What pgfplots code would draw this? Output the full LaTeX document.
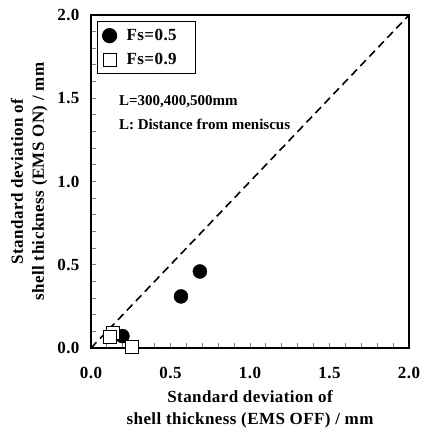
\documentclass[border=0pt]{standalone}
\usepackage{pgfplots}
\pgfplotsset{compat=1.18}
\usepackage{fontspec}
\setmainfont{Liberation Serif}
\newfontfamily\spc[LetterSpace=2.5]{Liberation Serif}
\begin{document}
\begin{tikzpicture}
\begin{axis}[
  scale only axis,
  width=318pt, height=333pt,
  xmin=0, xmax=2, ymin=0, ymax=2,
  xtick={0,0.5,...,2}, ytick={0,0.5,...,2},
  minor x tick num=4, minor y tick num=4,
  xtick pos=bottom, ytick pos=left,
  tick align=inside,
  major tick length=5pt, minor tick length=5pt,
  tick style={line width=1pt},
  /pgf/number format/fixed,
  /pgf/number format/fixed zerofill,
  /pgf/number format/precision=1,
  /pgf/number format/assume math mode=true,
  ticklabel style={font=\spc\bfseries\fontsize{17}{19}\selectfont},
  xticklabel style={yshift=-16pt},
  yticklabel style={xshift=-8pt},
  label style={font=\spc\bfseries\fontsize{17}{21}\selectfont, align=center},
  xlabel={Standard deviation of\\shell thickness (EMS OFF) / mm},
  ylabel={Standard deviation of\\shell thickness (EMS ON) / mm},
  xlabel style={yshift=-5pt},
  ylabel style={yshift=3pt},
  axis line style={line width=1.3pt},
  clip=false,
  legend style={at={(0.019,0.983)}, anchor=north west, font=\spc\bfseries\fontsize{17}{19}\selectfont,
    line width=1.2pt, row sep=7pt, column sep=8pt, inner xsep=5pt, inner ysep=6pt,
    nodes={draw=none}},
  legend cell align=left,
]
\path (rel axis cs:-0.286,-0.27) rectangle (rel axis cs:1.063,1.045);
\addplot[only marks, mark=*, mark size=7pt, black] coordinates {
  (0.685,0.46) (0.566,0.31) (0.198,0.072)
};
\addlegendentry{Fs=0.5\kern12pt}
\addplot[only marks, mark=square*, mark size=6.5pt, black, fill=white, mark options={line width=0.8pt}] coordinates {
  (0.138,0.09) (0.12,0.065) (0.26,0.01)
};
\addlegendentry{Fs=0.9\kern12pt}
\addplot[line width=1.6pt, dash pattern=on 8pt off 5pt, forget plot] coordinates {(0,0) (2,2)};
\node[anchor=west, font=\bfseries\fontsize{15}{17}\selectfont] at (axis cs:0.155,1.48) {L=300,400,500mm};
\node[anchor=west, font=\bfseries\fontsize{15}{17}\selectfont] at (axis cs:0.155,1.345) {L: Distance from meniscus};
\end{axis}
\end{tikzpicture}
\end{document}
